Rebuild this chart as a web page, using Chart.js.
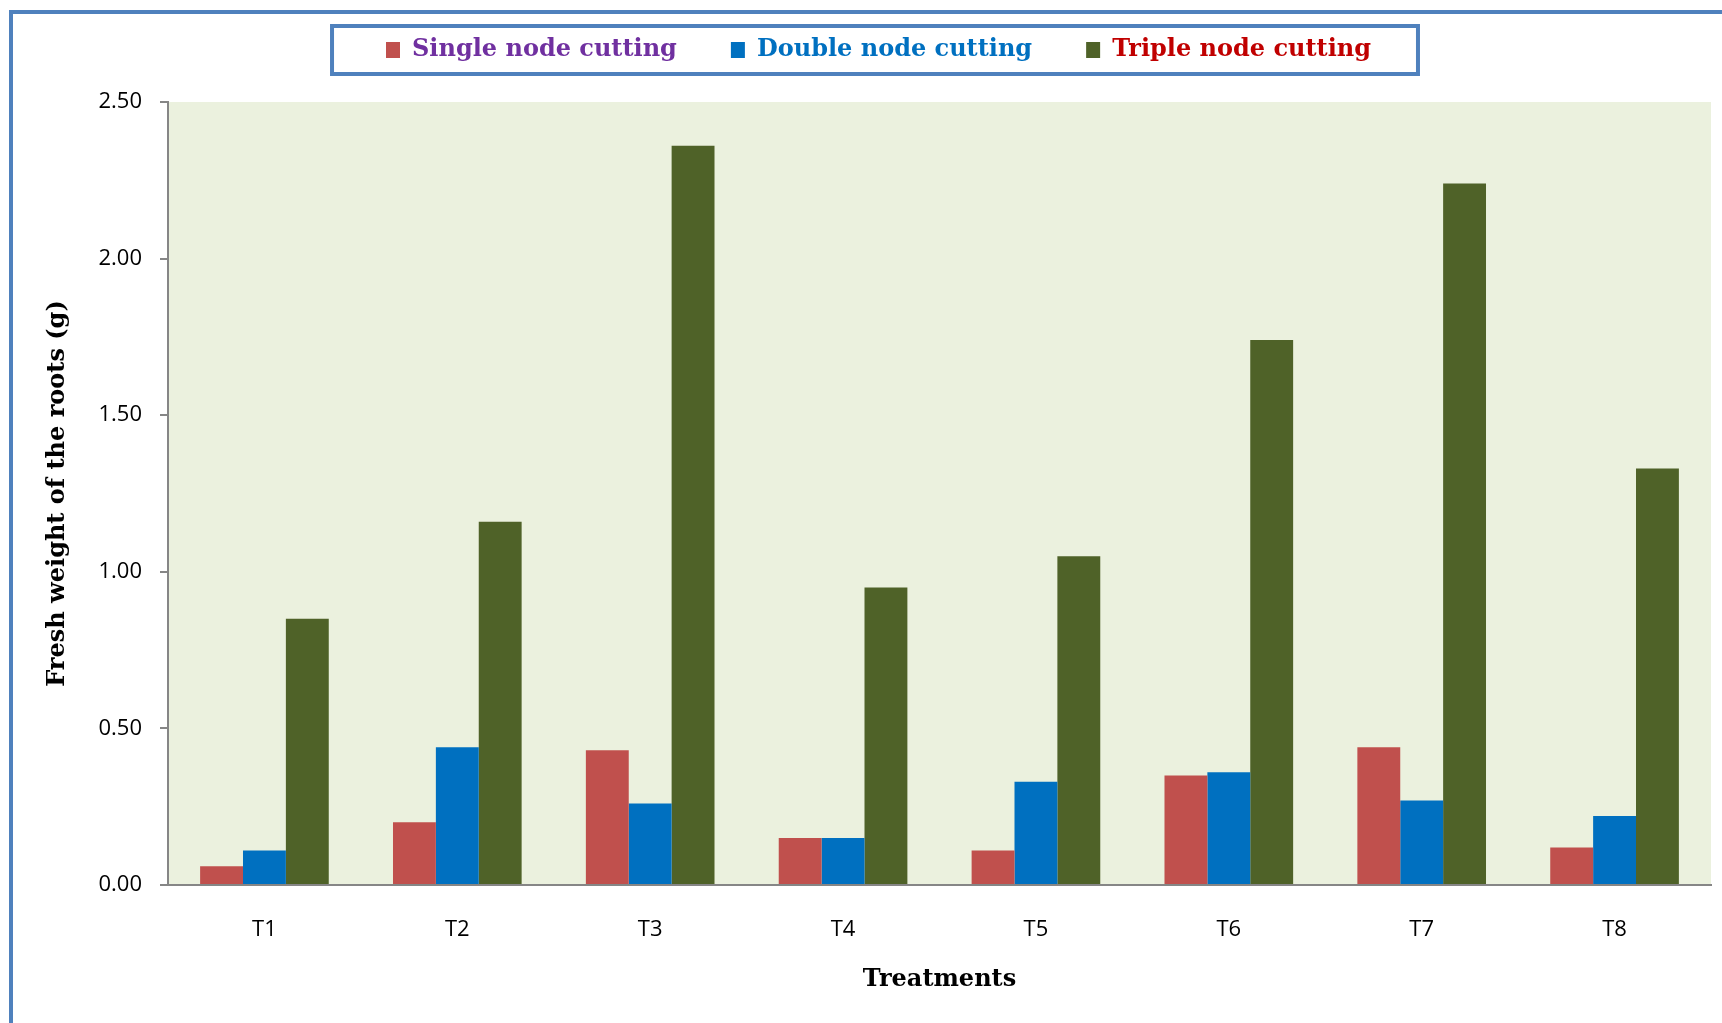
<!DOCTYPE html>
<html>
<head>
<meta charset="utf-8">
<style>
  html, body { margin: 0; padding: 0; background: #fff; }
  #wrap { width: 1722px; height: 1023px; }
</style>
<script src="https://cdn.jsdelivr.net/npm/chart.js@4.4.1/dist/chart.umd.min.js"></script>
</head>
<body>
<div id="wrap"><canvas id="chart" width="1722" height="1023"></canvas></div>
<script>
const treatments = ['T1', 'T2', 'T3', 'T4', 'T5', 'T6', 'T7', 'T8']
const singleNode = [0.06, 0.20, 0.43, 0.15, 0.11, 0.35, 0.44, 0.12]
const doubleNode = [0.11, 0.44, 0.26, 0.15, 0.33, 0.36, 0.27, 0.22]
const tripleNode = [0.85, 1.16, 2.36, 0.95, 1.05, 1.74, 2.24, 1.33]
const seriesNames = ['Single node cutting', 'Double node cutting', 'Triple node cutting']
const barColors = ['#C0504D', '#0070C0', '#4F6228']
const legendTextColors = ['#7030A0', '#0070C0', '#C00000']

const frameBlue = '#4F81BD'
const axisGray = '#868686'
const serifBold = (size) => ({ family: 'DejaVu Serif', weight: 'bold', size: size })

// outer frame + plot background
const backdrop = {
  id: 'backdrop',
  beforeDraw: (chart) => {
    const { ctx, chartArea } = chart
    ctx.save()
    ctx.fillStyle = '#EBF1DE'
    ctx.fillRect(chartArea.left, chartArea.top, chartArea.right - chartArea.left, chartArea.bottom - chartArea.top)
    ctx.strokeStyle = frameBlue
    ctx.lineWidth = 4
    ctx.beginPath()
    ctx.moveTo(11, chart.height + 5)
    ctx.lineTo(11, 12)
    ctx.lineTo(chart.width + 5, 12)
    ctx.stroke()
    ctx.restore()
  }
}

// blue box round the legend
const legendFrame = {
  id: 'legendFrame',
  afterDraw: (chart) => {
    const boxes = chart.legend.legendHitBoxes
    if (!boxes || !boxes.length) return
    const first = boxes[0]
    const last = boxes[boxes.length - 1]
    const left = first.left - 54
    const right = last.left + last.width + 47
    const { ctx } = chart
    ctx.save()
    ctx.strokeStyle = frameBlue
    ctx.lineWidth = 4
    ctx.strokeRect(left, 26, right - left, 48)
    ctx.restore()
  }
}

const makeDataset = (i, data) => ({
  label: seriesNames[i],
  data: data,
  backgroundColor: barColors[i],
  borderWidth: 0,
  categoryPercentage: 0.667,
  barPercentage: 1
})

new Chart(document.getElementById('chart'), {
  type: 'bar',
  data: {
    labels: treatments,
    datasets: [
      makeDataset(0, singleNode),
      makeDataset(1, doubleNode),
      makeDataset(2, tripleNode)
    ]
  },
  options: {
    responsive: false,
    animation: false,
    devicePixelRatio: 1,
    layout: { padding: { top: -16, right: 11, left: 46, bottom: 0 } },
    plugins: {
      tooltip: { enabled: false },
      legend: {
        position: 'top',
        labels: {
          padding: 54,
          boxWidth: 14,
          boxHeight: 16,
          font: serifBold(24),
          generateLabels: (chart) => Chart.defaults.plugins.legend.labels.generateLabels(chart)
            .map((item, i) => ({ ...item, fontColor: legendTextColors[i], lineWidth: 0 }))
        }
      },
      // empty spacer between legend and plot
      subtitle: {
        display: true,
        text: ' ',
        weight: 500,
        padding: { top: 0, bottom: 20 },
        font: { size: 10, lineHeight: 1 }
      }
    },
    scales: {
      x: {
        grid: { display: false, drawTicks: false },
        border: { display: true, color: axisGray, width: 2 },
        ticks: { color: '#000', padding: 32, font: { family: 'Open Sans', size: 22 } },
        title: {
          display: true,
          text: 'Treatments',
          color: '#000',
          padding: { top: 0, bottom: 29 },
          font: serifBold(24)
        },
        afterFit: (scale) => { scale.height = 138 }
      },
      y: {
        min: 0,
        max: 2.5,
        grid: { drawOnChartArea: false, drawTicks: true, tickLength: 8, color: axisGray, lineWidth: 2 },
        border: { display: true, color: axisGray, width: 2 },
        ticks: {
          stepSize: 0.5,
          color: '#000',
          padding: 18,
          font: { family: 'Open Sans', size: 22 },
          callback: (v) => v.toFixed(2)
        },
        title: {
          display: true,
          text: 'Fresh weight of the roots (g)',
          color: '#000',
          padding: { top: -3, bottom: 0 },
          font: serifBold(24)
        },
        afterFit: (scale) => { scale.width = 122 }
      }
    }
  },
  plugins: [backdrop, legendFrame]
})
</script>
</body>
</html>
